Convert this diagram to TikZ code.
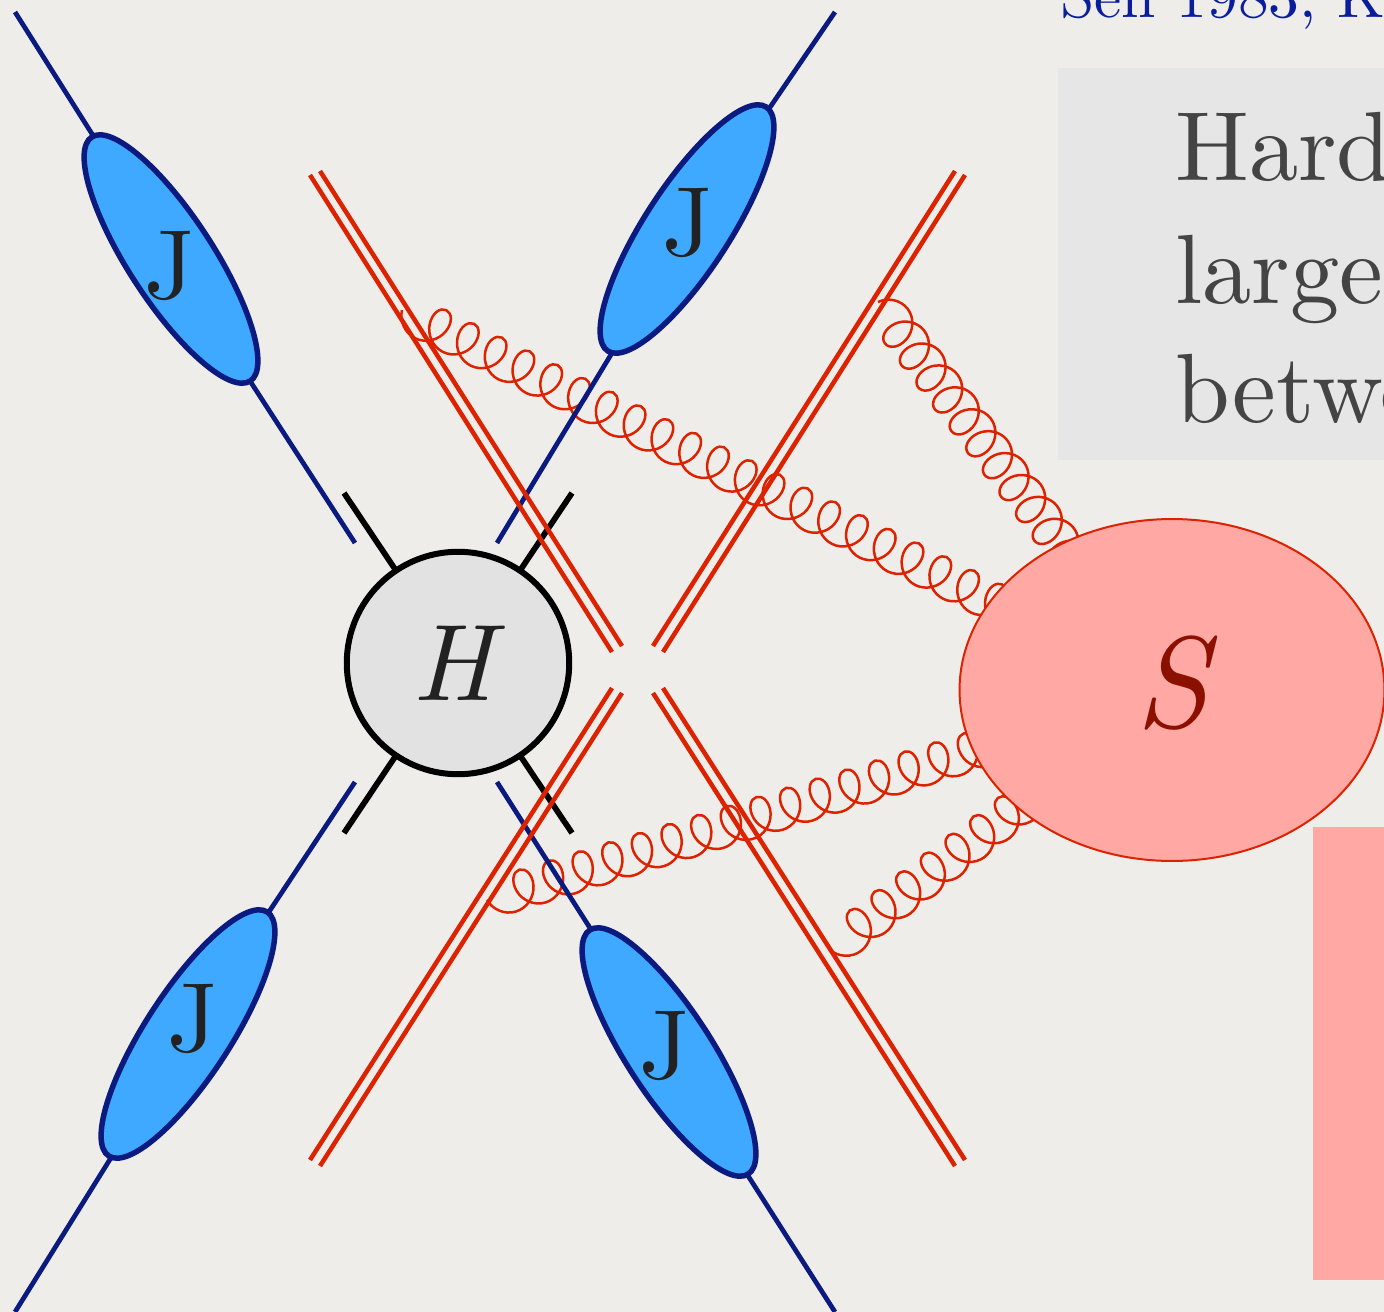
\documentclass[tikz,border=0pt]{standalone}
\usepackage{fontspec}
\setmainfont{lmroman10-regular.otf}[ItalicFont=lmroman10-italic.otf]
\usepackage{xcolor}
\usetikzlibrary{arrows.meta,positioning,calc,backgrounds,shapes.geometric,decorations.pathmorphing}
\definecolor{paper}{HTML}{EEEDEA}
\definecolor{greyBox}{HTML}{E6E6E6}
\definecolor{greyText}{HTML}{444444}
\definecolor{jetBlue}{HTML}{3EA9FF}
\definecolor{navy}{HTML}{0A1A7E}
\definecolor{citeBlue}{HTML}{0A1E9C}
\definecolor{softRed}{HTML}{DD2200}
\definecolor{softPink}{HTML}{FFA8A4}
\definecolor{softDark}{HTML}{8C1000}
\definecolor{hardFill}{HTML}{E2E2E2}
\definecolor{ink}{HTML}{222222}

\begin{document}
\begin{tikzpicture}[x=0.02cm,y=-0.02cm,
  jet/.style={draw=navy,fill=jetBlue,line width=0.11cm,ellipse,minimum width=5.82cm,minimum height=1.7cm,inner sep=0pt,outer sep=0pt},
  jetlabel/.style={ink,font=\fontsize{56}{60}\selectfont},
  quark/.style={navy,line width=0.095cm},
  stub/.style={black,line width=0.115cm},
  wilson/.style={softRed,line width=0.09cm},
  gluon/.style={softRed,line width=0.05cm,decorate,decoration={coil,amplitude=0.39cm,segment length=0.62cm,aspect=0.85}},
  flip/.style={decoration={mirror}},
  tight/.style={decoration={segment length=0.55cm}},
  bodytext/.style={greyText,anchor=base west,inner sep=0pt,font=\fontsize{56}{60}\selectfont}]
\useasboundingbox (0,0) rectangle (1384,1312);
\clip (0,0) rectangle (1384,1312);
\node[citeBlue,anchor=base west,inner sep=0pt,font=\fontsize{35}{40}\selectfont] (cite) at (1060,17) {Sen 1983, K};
\node[bodytext] (line1) at (1175,180) {Hard};
\node[bodytext] (line2) at (1175,303) {large};
\node[bodytext] (line3) at (1175,422) {betwe};
% jets
\node[jet,rotate=-57] (jTL) at (171,259) {};
\node[jet,rotate=57] (jTR) at (687,229) {};
\node[jet,rotate=57] (jBL) at (188,1034) {};
\node[jet,rotate=-57] (jBR) at (669,1052) {};
\node[jetlabel] (lTL) at (170,266) {J};
\node[jetlabel] (lTR) at (688,223) {J};
\node[jetlabel] (lBL) at (193,1019) {J};
\node[jetlabel] (lBR) at (665,1046) {J};
\coordinate (qTLa) at (15,12);
\coordinate (qTLb) at (355,543);
\coordinate (qTRa) at (835,12);
\coordinate (qTRb) at (497,543);
\coordinate (qBLa) at (15,1312);
\coordinate (qBLb) at (355,782);
\coordinate (qBRa) at (835,1312);
\coordinate (qBRb) at (497,782);
\draw[quark] (qTLa) -- (jTL);
\draw[quark] (jTL) -- (qTLb);
\draw[quark] (qTRa) -- (jTR);
\draw[quark] (jTR) -- (qTRb);
\draw[quark] (qBLa) -- (jBL);
\draw[quark] (jBL) -- (qBLb);
\draw[quark] (qBRa) -- (jBR);
\draw[quark] (jBR) -- (qBRb);
% hard part
\node[circle,draw=black,fill=hardFill,line width=0.12cm,minimum size=4.45cm,inner sep=0pt,outer sep=0pt] (H) at (458,663) {};
\node[text=ink,font=\fontsize{62}{66}\itshape\selectfont] (lH) at (453,663) {H};
\coordinate (sTL) at (344,493);
\coordinate (sTR) at (572,493);
\coordinate (sBL) at (344,833);
\coordinate (sBR) at (572,833);
\draw[stub] (H) -- (sTL);
\draw[stub] (H) -- (sTR);
\draw[stub] (H) -- (sBL);
\draw[stub] (H) -- (sBR);
% double lines
\coordinate (wA1) at (310,175); \coordinate (wA2) at (612,652);
\coordinate (wB1) at (320,171); \coordinate (wB2) at (622,646);
\coordinate (wC1) at (965,175); \coordinate (wC2) at (663,652);
\coordinate (wD1) at (955,171); \coordinate (wD2) at (653,646);
\coordinate (wE1) at (310,1160); \coordinate (wE2) at (612,688);
\coordinate (wF1) at (320,1166); \coordinate (wF2) at (622,693);
\coordinate (wG1) at (965,1160); \coordinate (wG2) at (663,688);
\coordinate (wH1) at (955,1166); \coordinate (wH2) at (653,693);
\foreach \w in {A,B,C,D,E,F,G,H}
  \draw[wilson] (w\w1) -- (w\w2);
% soft part
\node[ellipse,draw=softRed,fill=softPink,line width=0.04cm,minimum width=8.5cm,minimum height=6.84cm,inner sep=0pt,outer sep=0pt] (S) at (1172,690) {};
\node[text=softDark,font=\fontsize{74}{76}\itshape\selectfont] (lS) at (1172,683) {S};
\coordinate (gA) at (402,310);
\coordinate (gB) at (878,302);
\coordinate (gC) at (487,900);
\coordinate (gD) at (830,950);
\fill[softPink] (1313,827) rectangle (1384,1280);
\begin{pgfonlayer}{background}
\fill[paper] (0,0) rectangle (1384,1312);
\fill[greyBox] (1058,68) rectangle (1384,460);
\draw[gluon,flip] (gA) -- (S.center);
\draw[gluon,tight] (gB) -- (S.center);
\draw[gluon,flip] (gC) -- (S.center);
\draw[gluon,flip] (gD) -- (S.center);
\end{pgfonlayer}
\end{tikzpicture}
\end{document}
